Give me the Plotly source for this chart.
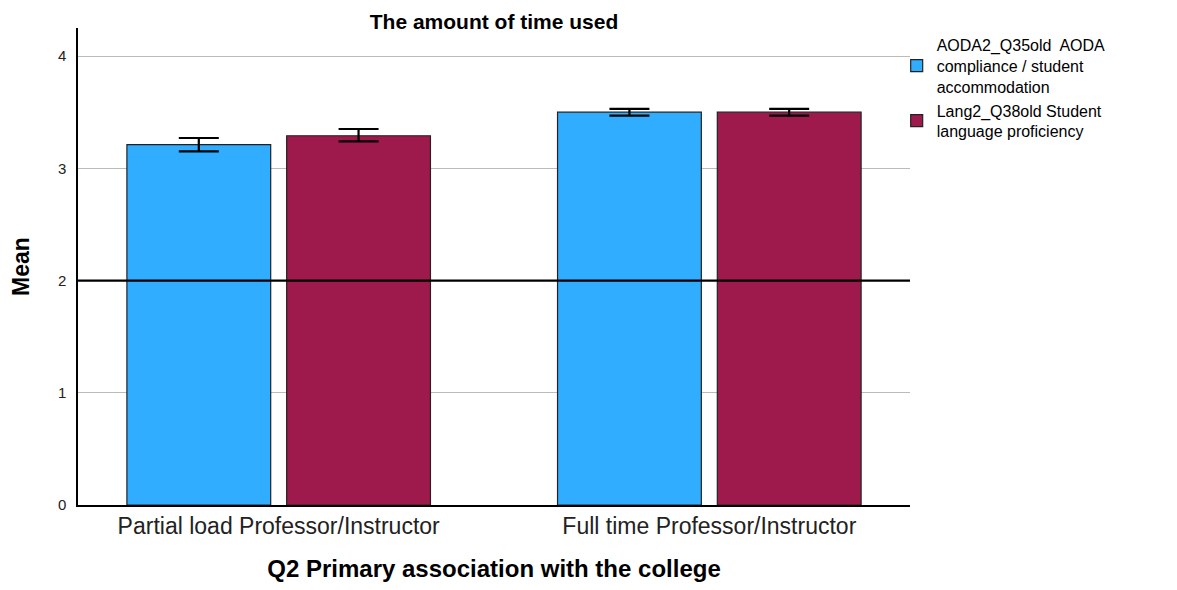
import plotly.graph_objects as go

# chart data
groups = ["Partial load Professor/Instructor", "Full time Professor/Instructor"]
series_names = [
    "AODA2_Q35old  AODA<br>compliance / student<br>accommodation",
    "Lang2_Q38old Student<br>language proficiency",
]
aoda_mean = [3.21, 3.50]
aoda_hi = [3.27, 3.53]
aoda_lo = [3.15, 3.47]
lang_mean = [3.29, 3.50]
lang_hi = [3.35, 3.53]
lang_lo = [3.24, 3.47]
ref_value = 2

colors = ["#31adff", "#9e1a4c"]

fig = go.Figure()
for name, mean, hi, lo, col in [
    (series_names[0], aoda_mean, aoda_hi, aoda_lo, colors[0]),
    (series_names[1], lang_mean, lang_hi, lang_lo, colors[1]),
]:
    fig.add_trace(go.Bar(
        x=groups, y=mean, name=name,
        marker=dict(color=col, line=dict(color="#222222", width=1.2)),
        error_y=dict(type="data", symmetric=False,
                     array=[h - m for h, m in zip(hi, mean)],
                     arrayminus=[m - l for m, l in zip(mean, lo)],
                     color="black", thickness=2.2, width=20),
    ))

# reference line
fig.add_shape(type="line", xref="paper", x0=0, x1=1, yref="y", y0=ref_value, y1=ref_value,
              line=dict(color="black", width=2.2), layer="above")

# page body has an 8px margin, so the figure is sized to fit the window
fig.update_layout(
    width=1161, height=574,
    margin=dict(l=70, r=259, t=20, b=77),
    paper_bgcolor="white", plot_bgcolor="white",
    font=dict(family="Liberation Sans, Arial, sans-serif", color="black"),
    title=dict(text="<b>The amount of time used</b>", x=0.5, xref="paper", xanchor="center",
               y=0.9765, yanchor="middle", font=dict(size=21)),
    barmode="group", bargap=0.258, bargroupgap=0.1,
    showlegend=True,
    legend=dict(x=0.984, xanchor="left", y=1.0, yanchor="top", font=dict(size=16),
                tracegroupgap=2, bgcolor="rgba(0,0,0,0)"),
    xaxis=dict(range=[-0.466, 1.466], showline=True, linecolor="black", linewidth=1.5,
               ticks="", tickfont=dict(size=23, color="#222222"), automargin=False,
               title=dict(text="<b>Q2 Primary association with the college</b>",
                          font=dict(size=24), standoff=29)),
    yaxis=dict(range=[0, 4.25], tickvals=[0, 1, 2, 3, 4], showline=True, linecolor="black",
               linewidth=1.5, showgrid=True, gridcolor="#bbbbbb", gridwidth=1,
               zeroline=False, ticks="", ticklabelstandoff=7, automargin=False,
               tickfont=dict(size=15, color="#222222"),
               title=dict(text="<b>Mean</b>", font=dict(size=23), standoff=26)),
)

fig.write_html("out.html")
